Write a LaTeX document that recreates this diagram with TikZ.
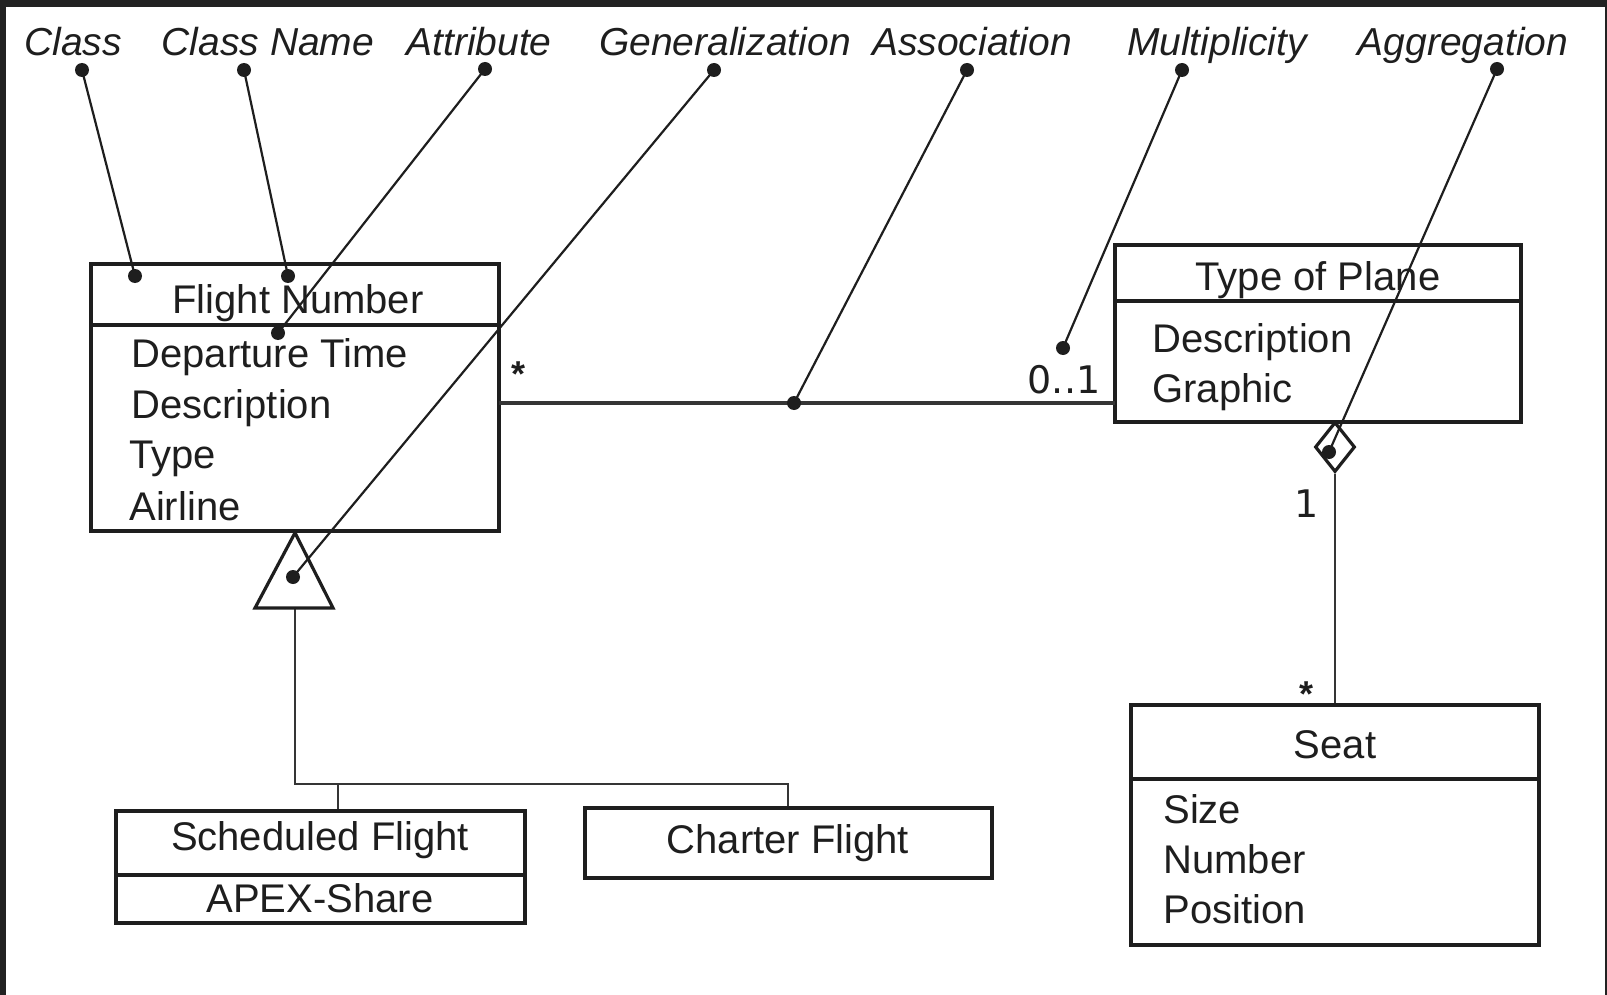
\documentclass[tikz,border=0pt]{standalone}
\usepackage{fontspec}
\setmainfont{Liberation Sans}
\newfontfamily\dejavu{DejaVu Sans}
\usetikzlibrary{shapes.geometric}
\definecolor{ink}{HTML}{1E1E1E}
\definecolor{frame}{HTML}{222222}
\begin{document}
\begin{tikzpicture}[x=0.5pt,y=-0.5pt,
  lbl/.style={inner sep=0, anchor=base, font=\fontsize{19.5}{22}\selectfont\itshape, text=ink},
  txt/.style={inner sep=0, anchor=base, font=\fontsize{20}{24}\selectfont, text=ink},
  attr/.style={txt, anchor=base west},
  mult/.style={inner sep=0, anchor=base, font=\dejavu\fontsize{19}{22}\selectfont, text=ink},
  umlbox/.style={draw=ink, line width=1.8pt, fill=white, inner sep=0},
  sep/.style={draw=ink, line width=1.8pt},
  ptr/.style={draw=ink, line width=1.1pt},
  assoc/.style={draw=ink!90, line width=2.2pt},
  gen/.style={draw=ink!90, line width=1.4pt},
  dotm/.style={circle, fill=ink, inner sep=0, minimum size=7pt},
]
% background and frame
\useasboundingbox (0,0) rectangle (1607,995);
\fill[white] (0,0) rectangle (1607,995);
\fill[frame] (0,0) rectangle (1607,7);
\fill[frame] (0,0) rectangle (6,995);
\fill[frame] (1605,0) rectangle (1607,995);

% ---------- boxes ----------
\node[umlbox, minimum width=204pt, minimum height=133.5pt] (fn) at (295,397.5) {};
\draw[sep] (fn.west |- 0,325) -- (fn.east |- 0,325);
\node[umlbox, minimum width=203pt, minimum height=88.5pt] (tp) at (1318,333.5) {};
\draw[sep] (tp.west |- 0,301) -- (tp.east |- 0,301);
\node[umlbox, minimum width=204pt, minimum height=120pt] (seat) at (1335,825) {};
\draw[sep] (seat.west |- 0,779) -- (seat.east |- 0,779);
\node[umlbox, minimum width=204.5pt, minimum height=56pt] (sf) at (320.5,867) {};
\draw[sep] (sf.west |- 0,875) -- (sf.east |- 0,875);
\node[umlbox, minimum width=203.5pt, minimum height=35pt] (cf) at (788.5,843) {};

% ---------- box texts ----------
\node[txt] (fnname) at (298,313) {Flight Number};
\node[attr] (fna1) at (131,367) {Departure Time};
\node[attr] (fna2) at (131,418) {Description};
\node[attr] (fna3) at (129,468) {Type};
\node[attr] (fna4) at (129,520) {Airline};

\node[txt] (tpname) at (1318,290) {Type of Plane};
\node[attr] (tpa1) at (1152,352) {Description};
\node[attr] (tpa2) at (1152,402) {Graphic};

\node[txt] (seatname) at (1335,758) {Seat};
\node[attr] (sa1) at (1163,823) {Size};
\node[attr] (sa2) at (1163,873) {Number};
\node[attr] (sa3) at (1163,923) {Position};

\node[txt] (sfname) at (320,850) {Scheduled Flight};
\node[txt] (sfa1) at (320,912) {APEX-Share};
\node[txt] (cfname) at (788,853) {Charter Flight};

% ---------- association ----------
\coordinate (asL) at (499,403);
\coordinate (asR) at (1115,403);
\draw[assoc] (asL) -- (asR);
\node[txt, anchor=center, font=\bfseries\fontsize{18}{20}\selectfont] (star1) at (519,374) {*};
\node[mult] (m01) at (1064,393) {0..1};

% ---------- generalization ----------
\coordinate (gbase) at (295,608);
\coordinate (gjoin) at (788,784);
\coordinate (gsf) at (338,784);
\draw[gen] (gbase) |- (gjoin) -- (cf.north -| gjoin);
\draw[gen] (gsf) -- (sf.north -| gsf);
\draw[draw=ink, line width=1.6pt, fill=white, line join=miter] (fn.south) -- (255,608) -- (333,608) -- cycle;

% ---------- aggregation ----------
\node[diamond, draw=ink, line width=1.6pt, fill=white, inner sep=0,
      minimum width=20pt, minimum height=25pt] (dia) at (1335,447) {};
\draw[gen] (dia.south) -- (seat.north -| dia.south);
\node[mult] (one) at (1307,517) {1};
\node[txt, anchor=center, font=\bfseries\fontsize{18}{20}\selectfont] (star2) at (1306,694) {*};

% ---------- labels ----------
\node[lbl] (lclass) at (73,56) {Class};
\node[lbl] (lcname) at (268,56) {Class Name};
\node[lbl] (lattr) at (479,56) {Attribute};
\node[lbl] (lgen) at (725,56) {Generalization};
\node[lbl] (lassoc) at (972,56) {Association};
\node[lbl] (lmult) at (1217,56) {Multiplicity};
\node[lbl] (lagg) at (1463,56) {Aggregation};

% label dots (top)
\node[dotm] (t1) at (82,70) {};
\node[dotm] (t2) at (244,70) {};
\node[dotm] (t3) at (485,69) {};
\node[dotm] (t4) at (714,70) {};
\node[dotm] (t5) at (967,70) {};
\node[dotm] (t6) at (1182,70) {};
\node[dotm] (t7) at (1497,69) {};
% end dots
\node[dotm] (e1) at (135,276) {};
\node[dotm] (e2) at (288,276) {};
\node[dotm] (e3) at (278,333) {};
\node[dotm] (e4) at (293,577) {};
\node[dotm] (e5) at (794,403) {};
\node[dotm] (e6) at (1063,348) {};
\node[dotm] (e7) at (1329,452) {};

\draw[ptr] (t1.center) -- (e1.center);
\draw[ptr] (t2.center) -- (e2.center);
\draw[ptr] (t3.center) -- (e3.center);
\draw[ptr] (t4.center) -- (e4.center);
\draw[ptr] (t5.center) -- (e5.center);
\draw[ptr] (t6.center) -- (e6.center);
\draw[ptr] (t7.center) -- (e7.center);
\end{tikzpicture}
\end{document}
